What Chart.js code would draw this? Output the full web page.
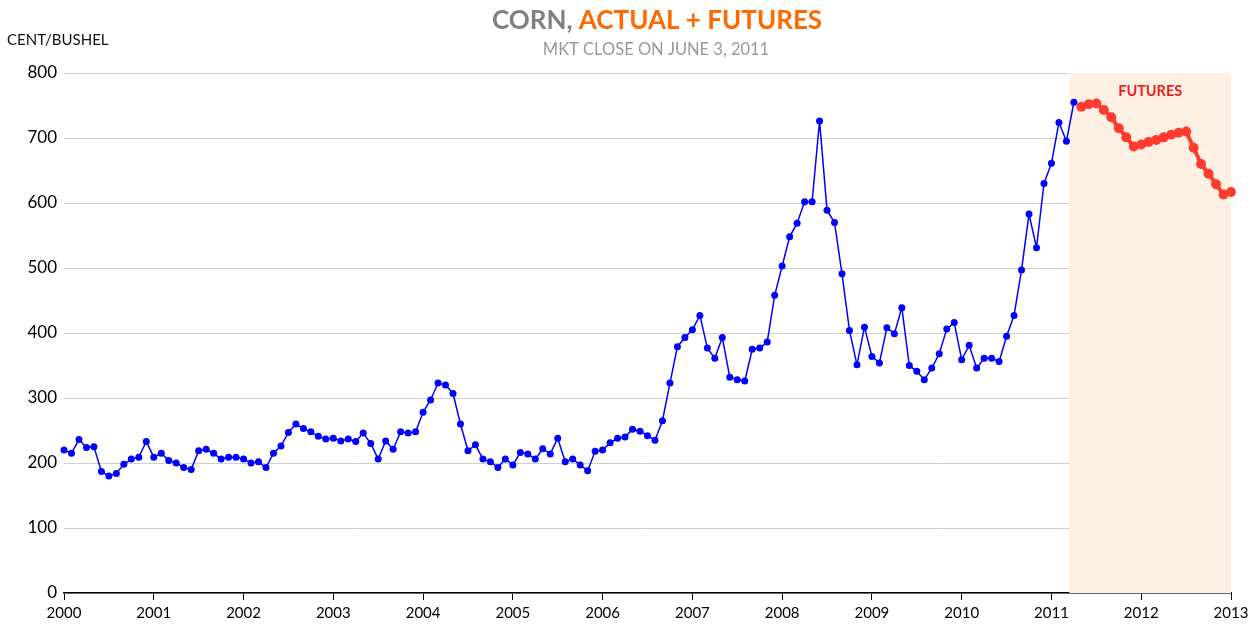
<!DOCTYPE html>
<html>
<head>
<meta charset="utf-8">
<script src="https://cdn.jsdelivr.net/npm/chart.js@4/dist/chart.umd.min.js"></script>
<style>
  html, body { margin: 0; padding: 0; background: #fff; }
  #wrap { width: 1259px; height: 628px; position: relative; }
</style>
</head>
<body>
<div id="wrap"><canvas id="cornChart" width="1259" height="628"></canvas></div>
<script>
// monthly closes, Jan 2000 .. Apr 2011 (cents per bushel)
var actualStart = 2000;
var actualValues = [
  220, 215, 236, 224, 225, 187, 180, 184, 198, 206, 209, 233,
  209, 215, 204, 200, 193, 190, 219, 221, 215, 206, 209, 209,
  206, 200, 202, 193, 215, 226, 247, 260, 253, 248, 241, 237,
  238, 234, 237, 233, 246, 230, 206, 234, 221, 248, 246, 248,
  278, 297, 323, 320, 307, 260, 219, 228, 206, 202, 193, 206,
  197, 216, 214, 206, 222, 214, 238, 202, 206, 197, 188, 218,
  220, 231, 238, 240, 252, 249, 242, 235, 265, 323, 379, 393,
  405, 427, 377, 361, 393, 332, 328, 326, 375, 377, 386, 458,
  503, 548, 569, 602, 602, 726, 589, 570, 491, 404, 351, 409,
  364, 354, 408, 399, 439, 350, 341, 328, 346, 368, 406, 416,
  359, 381, 346, 361, 361, 356, 395, 427, 497, 583, 531, 630,
  661, 724, 695, 755
];

// futures curve, May 2011 .. Jan 2013
var futuresStart = 2011 + 4 / 12;
var futuresValues = [
  748, 752, 753, 743, 732, 715, 701, 687, 690, 694, 697,
  701, 705, 708, 710, 685, 660, 645, 629, 613, 617
];

var yearTicks = [2000, 2001, 2002, 2003, 2004, 2005, 2006, 2007, 2008, 2009, 2010, 2011, 2012, 2013];
var futuresBand = [2011.2, 2013];

var actualPts = actualValues.map(function (v, i) {
  return { x: actualStart + i / 12, y: v };
});
var futuresPts = futuresValues.map(function (v, i) {
  return { x: futuresStart + i / 12, y: v };
});

var fontFam = "Lato, 'DejaVu Sans', sans-serif";

// shaded futures band + titles
var decor = {
  id: 'decor',
  beforeDatasetsDraw: function (chart) {
    var ctx = chart.ctx, xs = chart.scales.x, a = chart.chartArea;
    var x0 = xs.getPixelForValue(futuresBand[0]);
    var x1 = xs.getPixelForValue(futuresBand[1]);
    ctx.save();
    ctx.fillStyle = '#fef0e3';
    ctx.fillRect(x0, a.top, x1 - x0, a.bottom - a.top);
    ctx.restore();
  },
  afterDraw: function (chart) {
    var ctx = chart.ctx, xs = chart.scales.x;
    ctx.save();
    ctx.textBaseline = 'middle';

    // main title, two colours
    ctx.font = "bold 26px " + fontFam;
    var p1 = 'CORN, ', p2 = 'ACTUAL + FUTURES';
    var w1 = ctx.measureText(p1).width, w2 = ctx.measureText(p2).width;
    var sx = 657 - (w1 + w2) / 2;
    ctx.textAlign = 'left';
    ctx.fillStyle = '#808080';
    ctx.fillText(p1, sx, 21);
    ctx.fillStyle = '#ff6a00';
    ctx.fillText(p2, sx + w1, 21);

    ctx.textAlign = 'center';
    ctx.font = "16.5px " + fontFam;
    ctx.fillStyle = '#999999';
    ctx.fillText('MKT CLOSE ON JUNE 3, 2011', 656, 50);

    ctx.textAlign = 'left';
    ctx.font = "15px " + fontFam;
    ctx.fillStyle = '#111';
    ctx.fillText('CENT/BUSHEL', 7, 40);

    ctx.textAlign = 'center';
    ctx.font = "bold 14.5px " + fontFam;
    ctx.fillStyle = '#ee1c1c';
    ctx.fillText('FUTURES', xs.getPixelForValue(2012.1), 91);
    ctx.restore();
  }
};

new Chart('cornChart', {
  type: 'line',
  data: {
    datasets: [
      {
        label: 'Actual',
        data: actualPts,
        borderColor: '#0000ff',
        backgroundColor: '#0000ff',
        borderWidth: 1.5,
        pointRadius: 3.5,
        pointBorderWidth: 0,
        clip: false,
        tension: 0
      },
      {
        label: 'Futures',
        data: futuresPts,
        borderColor: '#ff3a2e',
        backgroundColor: '#ff3a2e',
        borderWidth: 4,
        pointRadius: 5,
        pointBorderWidth: 0,
        clip: false,
        tension: 0
      }
    ]
  },
  options: {
    responsive: false,
    animation: false,
    layout: { padding: { top: 73, right: 28, left: 0, bottom: 0 } },
    plugins: {
      legend: { display: false },
      tooltip: { enabled: false },
      title: { display: false }
    },
    scales: {
      x: {
        type: 'linear',
        min: 2000,
        max: 2013,
        afterBuildTicks: function (scale) {
          scale.ticks = yearTicks.map(function (y) { return { value: y }; });
        },
        afterFit: function (scale) { scale.height = 35; },
        ticks: {
          color: '#000',
          font: { family: fontFam, size: 15 },
          padding: 4,
          maxRotation: 0,
          callback: function (v) { return String(v); }
        },
        grid: {
          drawOnChartArea: false,
          drawTicks: true,
          tickLength: 7,
          color: '#000',
          lineWidth: 1
        },
        border: { display: true, color: '#000', width: 1.5 }
      },
      y: {
        min: 0,
        max: 800,
        afterFit: function (scale) { scale.width = 64; },
        ticks: {
          stepSize: 100,
          color: '#000',
          font: { family: fontFam, size: 17 },
          padding: 7
        },
        grid: {
          color: '#cfcfcf',
          drawTicks: false,
          lineWidth: 1
        },
        border: { display: false }
      }
    }
  },
  plugins: [decor]
});
</script>
</body>
</html>
